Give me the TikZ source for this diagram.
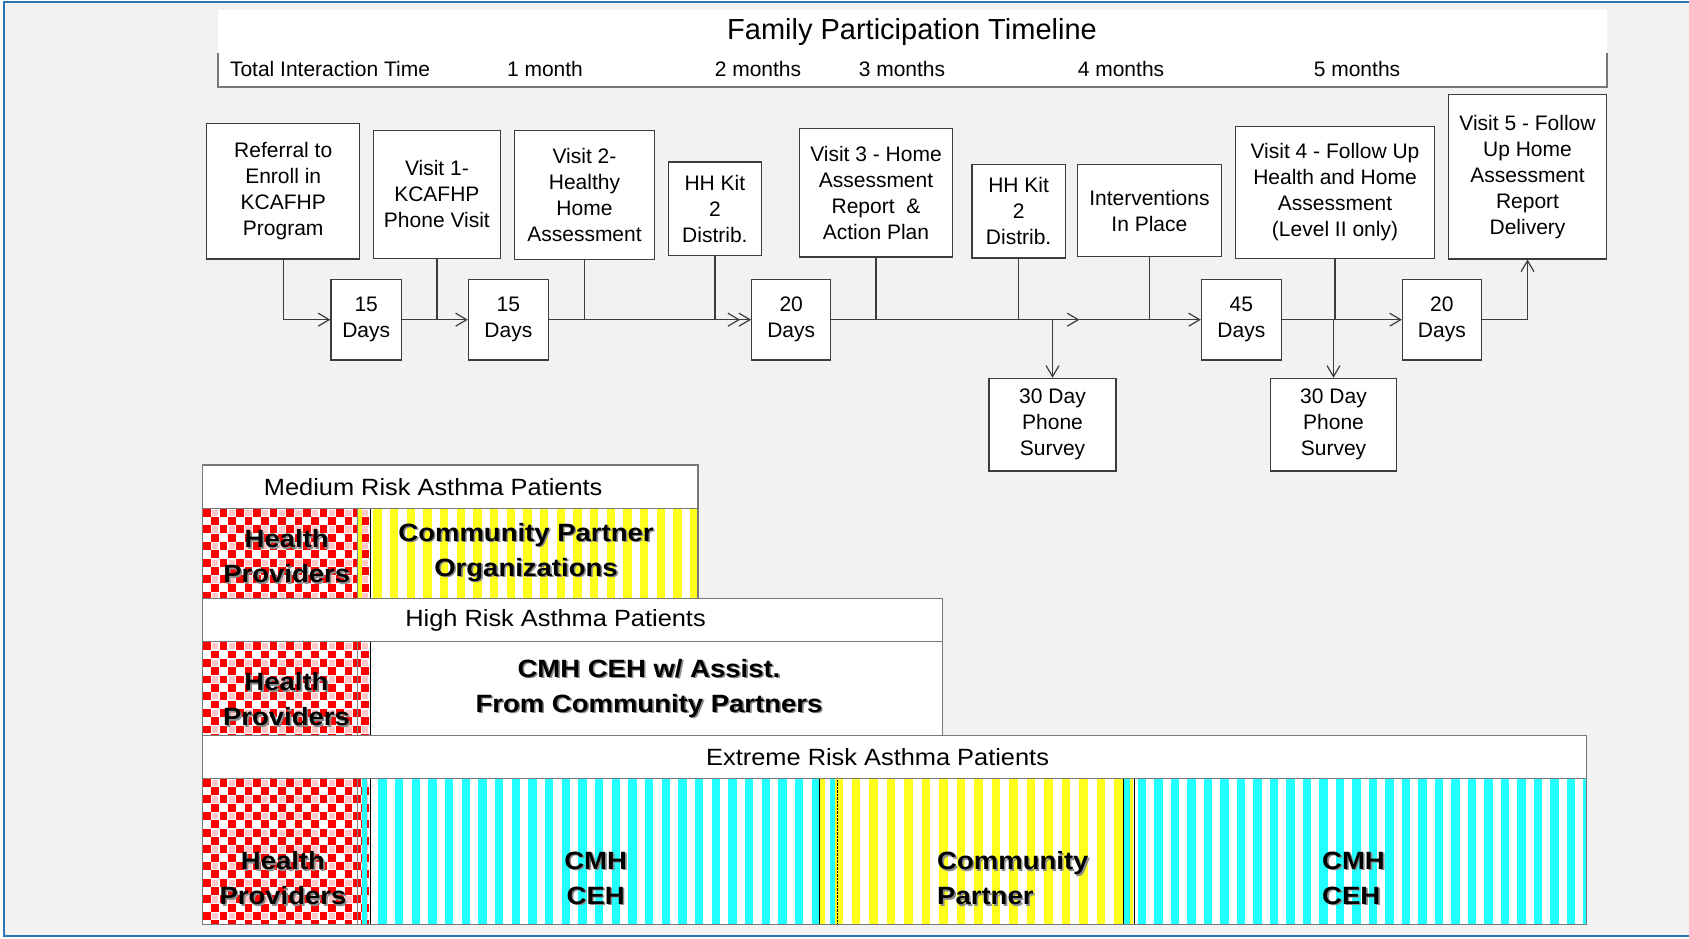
\documentclass[tikz,border=0pt]{standalone}
\usepackage{fontspec}
\setmainfont{Liberation Sans}
\newfontfamily\bandfont{Liberation Sans}[FakeStretch=1.08]
\newfontfamily\boldfont{Liberation Sans}[FakeStretch=1.1]
\usetikzlibrary{arrows.meta}

\definecolor{frameblue}{RGB}{46,117,182}
\definecolor{boxline}{RGB}{60,60,60}
\definecolor{rulegray}{RGB}{120,120,120}
\definecolor{stripecyan}{RGB}{34,255,255}
\definecolor{stripeyellow}{RGB}{255,255,30}

% bold label with a grey drop shadow
\newcommand{\shd}[1]{\makebox[0pt][l]{\hspace{1.6pt}\raisebox{-1.6pt}{\textcolor{black!45}{#1}}}#1}

% red checks of the health provider column, #1 = top, #2 = bottom
\newcommand{\checkcell}[2]{%
  \begin{scope}
    \clip (202.5,#1) rectangle (370.5,#2);
    \fill[white] (202.5,#1) rectangle (370.5,#2);
    \foreach \i in {0,...,10}{ \foreach \j in {0,...,9}{
      \fill[red] ({203+16.67*\i},{#1+0.5+16.67*\j}) rectangle +(7.8,7.8);
      \fill[red] ({211.3+16.67*\i},{#1+8.8+16.67*\j}) rectangle +(7.8,7.8);
      \fill[red!22] ({212+16.67*\i},{#1+1.2+16.67*\j}) rectangle +(6.4,6.4); } }
  \end{scope}}

% vertical stripes: colour, left, right, top, bottom, first stripe, period
\newcommand{\stripes}[7]{%
  \begin{scope}
    \clip (#2,#4) rectangle (#3,#5);
    \fill[white] (#2,#4) rectangle (#3,#5);
    \foreach \k in {0,...,40} { \fill[#1] ({#6+#7*\k},#4) rectangle ({#6+#7*\k+8.3},#5); }
  \end{scope}}

\begin{document}
\begin{tikzpicture}[x=1pt,y=-1pt,
    box/.style={draw=boxline,fill=white,line width=1.2pt,align=center,inner sep=0pt,font=\fontsize{21}{26}\selectfont},
    daybox/.style={box,minimum width=80pt,minimum height=80.7pt},
    link/.style={draw=boxline,line width=1.2pt},
    tip/.style={-{Straight Barb[length=11pt,width=13pt]}},
    rule/.style={draw=rulegray,line width=1.3pt},
    month/.style={font=\fontsize{21}{26}\selectfont,inner sep=0pt,anchor=base},
    bandhead/.style={draw=rulegray,fill=white,line width=1.3pt,inner sep=0pt},
    bandtext/.style={font=\bandfont\fontsize{23.5}{28}\selectfont,inner sep=0pt},
    boldtext/.style={font=\boldfont\bfseries\fontsize{25}{35}\selectfont,align=center,inner sep=0pt}]

\useasboundingbox (0,0) rectangle (1689,939);
\fill[white] (0,0) rectangle (1689,939);
\fill[black!5] (4,2) rectangle (1689,936);
\draw[frameblue,line width=2pt] (1689,2) -- (4,2) -- (4,936) -- (1689,936);

% timeline header
\fill[white] (218,10) rectangle (1607,87);
\draw[rule] (218,53) -- (218,87) -- (1607,87) -- (1607,53);
\node[font=\fontsize{29}{34}\selectfont,inner sep=0pt,anchor=base] (title) at (912,40) {Family Participation Timeline};
\foreach \x/\t [count=\i] in {330/Total Interaction Time,545/1 month,758/2 months,902/3 months,1121/4 months,1357/5 months}
  \node[month] (tick\i) at (\x,76.7) {\t};

% steps
\node[box,minimum width=153pt,minimum height=135.7pt] (refer) at (283.2,191.2) {Referral to\\Enroll in\\KCAFHP\\Program};
\node[box,minimum width=126.7pt,minimum height=128pt] (visit1) at (436.9,194.3) {Visit 1-\\KCAFHP\\Phone Visit};
\node[box,minimum width=140.2pt,minimum height=129.4pt] (visit2) at (584.5,195) {Visit 2-\\Healthy\\Home\\Assessment};
\node[box,minimum width=93pt,minimum height=93.3pt] (kit1) at (714.9,208.7) {HH Kit\\2\\Distrib.};
\node[box,minimum width=152.7pt,minimum height=128.7pt] (visit3) at (876,192.7) {Visit 3 - Home\\Assessment\\Report\ \ \&\\Action Plan};
\node[box,minimum width=93.4pt,minimum height=93.3pt] (kit2) at (1018.6,211.3) {HH Kit\\2\\Distrib.};
\node[box,minimum width=143.8pt,minimum height=91.6pt] (interv) at (1149.4,210.5) {Interventions\\In Place};
\node[box,minimum width=199.5pt,minimum height=132pt] (visit4) at (1335,192.3) {Visit 4 - Follow Up\\Health and Home\\Assessment\\(Level II only)};
\node[box,minimum width=158.6pt,minimum height=164.3pt] (visit5) at (1527.5,176.8) {Visit 5 - Follow\\Up Home\\Assessment\\Report\\Delivery};

\node[daybox,minimum width=70.5pt] (days1) at (366.2,319.7) {15\\Days};
\node[daybox] (days2) at (508.4,319.7) {15\\Days};
\node[daybox,minimum width=79pt] (days3) at (791.2,319.7) {20\\Days};
\node[daybox] (days4) at (1241.4,319.7) {45\\Days};
\node[daybox,minimum width=79pt] (days5) at (1441.9,319.7) {20\\Days};

\node[box,minimum width=127pt,minimum height=92.7pt] (survey1) at (1052.5,424.7) {30 Day\\Phone\\Survey};
\node[box,minimum width=126pt,minimum height=92.7pt] (survey2) at (1333.5,424.7) {30 Day\\Phone\\Survey};
\coordinate (turn) at (1079.4,319.7);

\draw[link,tip] (refer) |- (days1);
\draw[link,tip] (days1) -- (days2);
\draw[link] (visit1) -- (visit1 |- days1);
\draw[link,tip] (days2) -- (days3);
\draw[link] (visit2) -- (visit2 |- days2);
\draw[link,tip] (kit1) |- ([xshift=-11pt]days3.west);
\draw[link,tip] (days3) -- (turn);
\draw[link,tip] (turn) -- (days4);
\draw[link] (visit3) -- (visit3 |- days3);
\draw[link] (kit2) -- (kit2 |- days3);
\draw[link] (interv) -- (interv |- days4);
\draw[link,tip] (survey1 |- days3) -- (survey1);
\draw[link,tip] (days4) -- (days5);
\draw[link] (visit4) -- (visit4 |- days4);
\draw[link,tip] (survey2 |- days4) -- (survey2);
\draw[link,tip] (days5) -| (visit5);

% risk bands
\node[bandhead,minimum width=495.4pt,minimum height=43.3pt,label={[bandtext,xshift=-17pt]center:Medium Risk Asthma Patients}] (medhead) at (450.2,486.65) {};
\node[bandhead,minimum width=740.1pt,minimum height=43.4pt,label={[bandtext,xshift=-17pt]center:High Risk Asthma Patients}] (highhead) at (572.55,620) {};
\node[bandhead,minimum width=1384.2pt,minimum height=42.6pt,label={[bandtext,xshift=-17pt]center:Extreme Risk Asthma Patients}] (exthead) at (894.6,757) {};

\checkcell{508.3}{598.3}
\stripes{stripeyellow}{370.5}{697.9}{508.3}{598.3}{373.3}{16.67}
\fill[stripeyellow] (357.5,508.3) rectangle (361.5,598.3);
\draw[black!50] (357,508.3) -- (357,598.3);
\draw[black,line width=1pt] (370.5,508.3) -- (370.5,598.3);
\draw[rule] (202.5,508.3) rectangle (697.9,598.3);

\checkcell{641.7}{735.7}
\fill[white] (370.5,641.7) rectangle (942.6,735.7);
\draw[black!50] (357,641.7) -- (357,735.7);
\draw[black,line width=1pt] (370.5,641.7) -- (370.5,735.7);
\draw[rule] (202.5,641.7) rectangle (942.6,735.7);

\checkcell{778.3}{924.3}
\stripes{stripecyan}{370.5}{819.5}{778.3}{924.3}{378.3}{16.67}
\stripes{stripeyellow}{819.5}{1123.3}{778.3}{924.3}{816.7}{17.5}
\stripes{stripecyan}{1134.3}{1586.7}{778.3}{924.3}{1137.7}{16.5}
\fill[stripecyan] (362,778.3) rectangle (367,924.3);
\fill[stripecyan] (830,778.3) rectangle (835,924.3);
\fill[stripecyan] (1124,778.3) rectangle (1130,924.3);
\fill[stripeyellow] (1130,778.3) rectangle (1133,924.3);
\draw[black!50] (357,778.3) -- (357,924.3);
\foreach \x in {370.5,819.5,1123.3,1134.3} \draw[black,line width=1pt] (\x,778.3) -- (\x,924.3);
\draw[black,densely dotted] (837,778.3) -- (837,924.3);
\draw[rule] (202.5,778.3) rectangle (1586.7,924.3);

\node[boldtext] (hp1) at (286.7,557) {\shd{Health}\\\shd{Providers}};
\node[boldtext] (cpo) at (526,553) {\shd{Community Partner}\\\shd{Organizations}};
\node[boldtext] (hp2) at (286.5,700) {\shd{Health}\\\shd{Providers}};
\node[boldtext] (assist) at (649,689) {\shd{CMH CEH w/ Assist.}\\\shd{From Community Partners}};
\node[boldtext] (hp3) at (283,879) {\shd{Health}\\\shd{Providers}};
\node[boldtext] (ceh1) at (595.7,879) {\shd{CMH}\\\shd{CEH}};
\node[boldtext,align=left,anchor=west] (cp3) at (937,879) {\shd{Community}\\\shd{Partner}};
\node[boldtext,align=left,anchor=west] (ceh2) at (1322,879) {\shd{CMH}\\\shd{CEH}};
\end{tikzpicture}
\end{document}
